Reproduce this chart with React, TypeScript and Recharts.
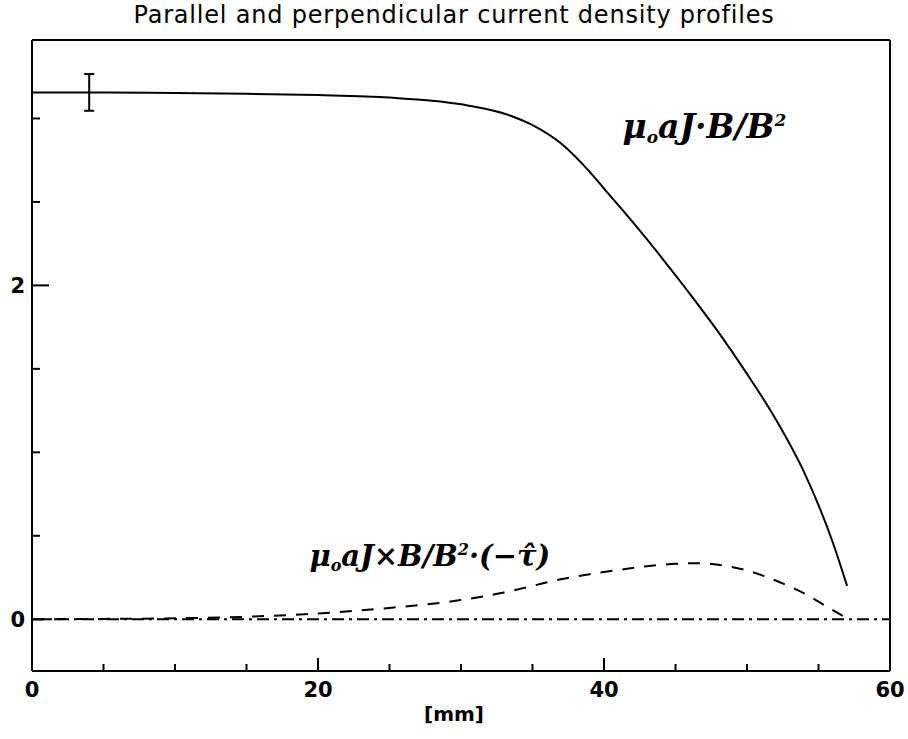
import React from "react";
import {
  ComposedChart,
  Line,
  Scatter,
  ErrorBar,
  XAxis,
  YAxis,
  ReferenceDot,
} from "recharts";

// radius in mm
const parallelX = [0, 5, 10, 15, 20, 25, 30, 33, 35, 37, 39, 40, 42, 44, 46, 48, 50, 52, 54, 56, 57];
const parallelY = [3.156, 3.155, 3.152, 3.148, 3.14, 3.125, 3.085, 3.03, 2.96, 2.85, 2.68, 2.58, 2.38, 2.17, 1.95, 1.72, 1.47, 1.2, 0.88, 0.46, 0.2];

const perpX = [0, 5, 10, 15, 20, 25, 30, 33, 35, 37, 39, 41, 43, 45, 46.5, 48, 50, 52, 54, 55.5, 56.7];
const perpY = [0, 0.002, 0.006, 0.015, 0.035, 0.068, 0.115, 0.16, 0.2, 0.24, 0.27, 0.295, 0.318, 0.332, 0.336, 0.326, 0.292, 0.232, 0.155, 0.08, 0.02];

const zeroX = [0, 60];
const zeroY = [0, 0];

const errX = [4];
const errY = [3.156];
const errSize = [0.11];

const xTicks = [0, 5, 10, 15, 20, 25, 30, 35, 40, 45, 50, 55, 60];
const xLabels = [0, 20, 40, 60];
const yTicks = [0, 0.5, 1, 1.5, 2, 2.5, 3];
const yLabels = [0, 2];

const zip = (xs: number[], ys: number[]) => xs.map((x, i) => ({ x, y: ys[i] }));
const parallelData = zip(parallelX, parallelY);
const perpData = zip(perpX, perpY);
const zeroData = zip(zeroX, zeroY);
const errData = errX.map((x, i) => ({ x, y: errY[i], err: errSize[i] }));

const tickFont = { fontFamily: "DejaVu Sans", fontSize: 21, fontWeight: "bold" as const };

const BottomTick = (props: any) => {
  const { x, y, payload } = props;
  const major = xLabels.includes(payload.value);
  return (
    <g>
      <line x1={x} y1={y} x2={x} y2={y - (major ? 13 : 7)} stroke="#000" strokeWidth={2} />
      {major && (
        <text x={x} y={y + 26} textAnchor="middle" fill="#000" {...tickFont}>
          {payload.value}
        </text>
      )}
    </g>
  );
};

const TopTick = (props: any) => {
  const { x, y, payload } = props;
  const major = xLabels.includes(payload.value);
  return <line x1={x} y1={y} x2={x} y2={y + (major ? 13 : 7)} stroke="#000" strokeWidth={2} />;
};

const LeftTick = (props: any) => {
  const { x, y, payload } = props;
  const major = yLabels.includes(payload.value);
  return (
    <g>
      <line x1={x} y1={y} x2={x + (major ? 17 : 8)} y2={y} stroke="#000" strokeWidth={2} />
      {major && (
        <text x={x - 7} y={y + 8} textAnchor="end" fill="#000" {...tickFont}>
          {payload.value}
        </text>
      )}
    </g>
  );
};

const RightTick = (props: any) => {
  const { x, y, payload } = props;
  const major = yLabels.includes(payload.value);
  return <line x1={x} y1={y} x2={x - (major ? 17 : 8)} y2={y} stroke="#000" strokeWidth={2} />;
};

const labelFont = {
  fontFamily: "DejaVu Serif",
  fontStyle: "italic" as const,
  fontWeight: "bold" as const,
  fill: "#000",
};

const ParallelLabel = (props: any) => (
  <text x={props.cx} y={props.cy} fontSize={33} {...labelFont}>
    μ<tspan dy={5} fontSize={17}>o</tspan>
    <tspan dy={-5}>aJ·B/B</tspan>
    <tspan dy={-12} fontSize={17}>2</tspan>
  </text>
);

const PerpLabel = (props: any) => (
  <text x={props.cx} y={props.cy} fontSize={29} {...labelFont}>
    μ<tspan dy={5} fontSize={16}>o</tspan>
    <tspan dy={-5}>aJ×B/B</tspan>
    <tspan dy={-11} fontSize={16}>2</tspan>
    <tspan dy={11}>·(−τ̂)</tspan>
  </text>
);

const App = () => {
  return (
    <div style={{ position: "absolute", left: 0, top: 0, width: 908, height: 739, background: "#fff" }}>
      <div
        style={{
          position: "absolute",
          top: 1,
          left: 0,
          width: 908,
          textAlign: "center",
          fontFamily: "DejaVu Sans",
          fontSize: 24,
          letterSpacing: 0.8,
        }}
      >
        Parallel and perpendicular current density profiles
      </div>
      <ComposedChart
        width={908}
        height={739}
        margin={{ top: 39, right: 17, bottom: 67, left: 31 }}
      >
        <XAxis
          xAxisId="bottom"
          dataKey="x"
          type="number"
          domain={[0, 60]}
          ticks={xTicks}
          interval={0}
          height={1}
          tickSize={0}
          tickMargin={0}
          tickLine={false}
          axisLine={{ stroke: "#000", strokeWidth: 2 }}
          tick={<BottomTick />}
          allowDataOverflow
        />
        <XAxis
          xAxisId="top"
          orientation="top"
          dataKey="x"
          type="number"
          domain={[0, 60]}
          ticks={xTicks}
          interval={0}
          height={1}
          tickSize={0}
          tickMargin={0}
          tickLine={false}
          axisLine={{ stroke: "#000", strokeWidth: 2 }}
          tick={<TopTick />}
        />
        <YAxis
          yAxisId="left"
          type="number"
          domain={[-0.31, 3.47]}
          ticks={yTicks}
          interval={0}
          width={1}
          tickSize={0}
          tickMargin={0}
          tickLine={false}
          axisLine={{ stroke: "#000", strokeWidth: 2 }}
          tick={<LeftTick />}
          allowDataOverflow
        />
        <YAxis
          yAxisId="right"
          orientation="right"
          type="number"
          domain={[-0.31, 3.47]}
          ticks={yTicks}
          interval={0}
          width={1}
          tickSize={0}
          tickMargin={0}
          tickLine={false}
          axisLine={{ stroke: "#000", strokeWidth: 2 }}
          tick={<RightTick />}
        />
        <Line
          xAxisId="bottom"
          yAxisId="left"
          data={zeroData}
          dataKey="y"
          type="linear"
          stroke="#000"
          strokeWidth={2}
          strokeDasharray="12 5 3 5"
          dot={false}
          isAnimationActive={false}
        />
        <Line
          xAxisId="bottom"
          yAxisId="left"
          data={perpData}
          dataKey="y"
          type="monotone"
          stroke="#000"
          strokeWidth={2}
          strokeDasharray="12 10"
          dot={false}
          isAnimationActive={false}
        />
        <Line
          xAxisId="bottom"
          yAxisId="left"
          data={parallelData}
          dataKey="y"
          type="monotone"
          stroke="#000"
          strokeWidth={2}
          dot={false}
          isAnimationActive={false}
        />
        <Scatter
          xAxisId="bottom"
          yAxisId="left"
          data={errData}
          dataKey="y"
          shape={() => <g />}
          isAnimationActive={false}
        >
          <ErrorBar dataKey="err" direction="y" width={5} stroke="#000" strokeWidth={2} isAnimationActive={false} />
        </Scatter>
        <ReferenceDot
          xAxisId="bottom"
          yAxisId="left"
          x={41.3}
          y={2.88}
          r={0}
          shape={ParallelLabel}
        />
        <ReferenceDot
          xAxisId="bottom"
          yAxisId="left"
          x={19.4}
          y={0.32}
          r={0}
          shape={PerpLabel}
        />
      </ComposedChart>
      <div
        style={{
          position: "absolute",
          top: 702,
          left: 0,
          width: 908,
          textAlign: "center",
          fontFamily: "DejaVu Sans",
          fontWeight: "bold",
          fontSize: 20,
        }}
      >
        [mm]
      </div>
    </div>
  );
};

export default App;
